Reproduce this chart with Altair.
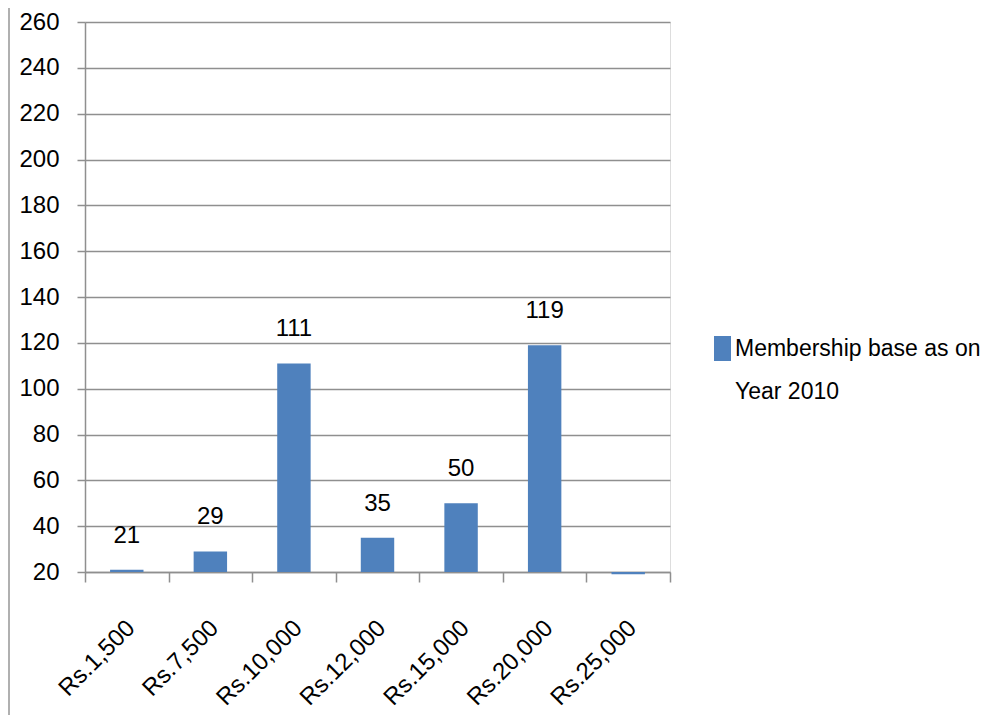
import altair as alt
import pandas as pd

categories = ["Rs.1,500", "Rs.7,500", "Rs.10,000", "Rs.12,000", "Rs.15,000", "Rs.20,000", "Rs.25,000"]
values = [21, 29, 111, 35, 50, 119, 19]
value_labels = ["21", "29", "111", "35", "50", "119", ""]
legend_lines = ["Membership base  as on", "Year 2010"]
series_name = " ".join(legend_lines)
y_ticks = list(range(20, 261, 20))

df = pd.DataFrame({"cat": categories, "value": values, "label": value_labels, "series": series_name})

FONT = "Liberation Sans"
FS = 24
BLUE = "#4F81BD"
GRID = "#8f8f8f"

x_enc = alt.X(
    "cat:N", sort=categories, title=None,
    scale=alt.Scale(paddingInner=0, paddingOuter=0),
    axis=alt.Axis(labelAngle=-45, labelAlign="right", labelBaseline="middle",
                  tickBand="extent", tickSize=10, tickColor=GRID, tickWidth=1.5,
                  domainColor=GRID, domainWidth=1.5, labelPadding=42, labelOffset=4,
                  labelFont=FONT, labelFontSize=FS, labelColor="#000000", grid=False),
)
y_scale = alt.Scale(domain=[20, 260], nice=False, zero=False)
y_axis = alt.Axis(values=y_ticks, title=None, grid=True, gridColor=GRID, gridWidth=1.5,
                  tickSize=8, tickColor=GRID, tickWidth=1.5, domainColor=GRID, domainWidth=1.5,
                  labelPadding=18, labelFont=FONT, labelFontSize=FS, labelColor="#000000")

legend_expr = "[" + ", ".join("'" + s + "'" for s in legend_lines) + "]"

bars = alt.Chart(df).mark_bar(width=alt.RelativeBandSize(0.4)).encode(
    x=x_enc,
    y=alt.Y("value:Q", scale=y_scale, axis=y_axis),
    y2=alt.datum(20),
    color=alt.Color("series:N", scale=alt.Scale(range=[BLUE]),
                    legend=alt.Legend(title=None, orient="none", legendX=625, legendY=314,
                                      symbolType="M-0.68,-1H0.68V1H-0.68Z", symbolSize=625,
                                      symbolStrokeWidth=0,
                                      labelFont=FONT, labelFontSize=23, labelColor="#000000",
                                      labelLimit=0, labelExpr=legend_expr, labelBaseline="middle",
                                      labelOffset=0)),
)

texts = alt.Chart(df).mark_text(dy=-34, baseline="middle", font=FONT, fontSize=FS, color="#000000").encode(
    x=alt.X("cat:N", sort=categories),
    y=alt.Y("value:Q", scale=y_scale),
    text="label:N",
)

border = alt.Chart(df).mark_rule(color="#b0b0b0", strokeWidth=1.5).encode(
    x=alt.value(-76), y=alt.value(-14), y2=alt.value(702)
)

chart = alt.layer(bars, texts, border).properties(
    width=585, height=550,
    autosize=alt.AutoSizeParams(type="none"),
    padding={"left": 77, "top": 14, "right": 314, "bottom": 143},
).configure_view(stroke=None).configure(style={"guide-label": {"lineHeight": 43}})

chart.save("out.html", embed_options={"renderer": "svg", "actions": False})
